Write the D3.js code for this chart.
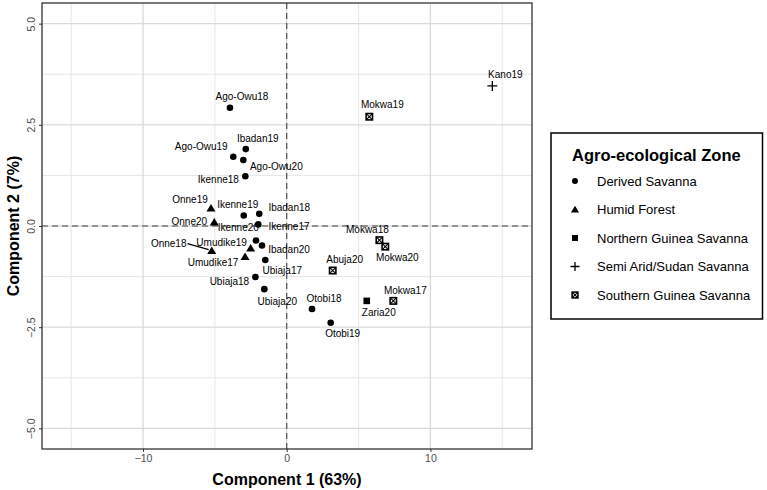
<!DOCTYPE html>
<html><head><meta charset="utf-8">
<script src="https://cdn.jsdelivr.net/npm/d3@7"></script>
<style>body{margin:0;background:#fff}svg{display:block;font-family:"Liberation Sans",Arial,sans-serif}</style>
</head><body><svg id="c" width="767" height="490"></svg>
<script>
// ---- data ----
const names = ["Ago-Owu18","Ibadan19","Ago-Owu19","Ago-Owu20","Ikenne18","Onne19","Ikenne19","Ibadan18","Onne20","Ikenne20","Ikenne17","Onne18","Umudike19","Umudike17","Ibadan20","Ubiaja17","Ubiaja18","Ubiaja20","Otobi18","Otobi19","Abuja20","Mokwa19","Kano19","Mokwa18","Mokwa20","Zaria20","Mokwa17"];
const zones = ["Derived Savanna","Derived Savanna","Derived Savanna","Derived Savanna","Derived Savanna","Humid Forest","Derived Savanna","Derived Savanna","Humid Forest","Derived Savanna","Derived Savanna","Humid Forest","Humid Forest","Humid Forest","Derived Savanna","Derived Savanna","Derived Savanna","Derived Savanna","Derived Savanna","Derived Savanna","Southern Guinea Savanna","Southern Guinea Savanna","Semi Arid/Sudan Savanna","Southern Guinea Savanna","Southern Guinea Savanna","Northern Guinea Savanna","Southern Guinea Savanna"];
const pc1 = [-3.95,-2.85,-3.72,-3.02,-2.88,-5.27,-2.99,-1.91,-5.04,-1.98,-2.14,-5.22,-2.51,-2.90,-1.72,-1.49,-2.18,-1.56,1.76,3.06,3.20,5.75,14.31,6.45,6.86,5.57,7.42];
const pc2 = [2.92,1.90,1.71,1.63,1.23,0.44,0.26,0.30,0.09,0.04,-0.36,-0.61,-0.55,-0.76,-0.48,-0.84,-1.26,-1.56,-2.05,-2.39,-1.10,2.70,3.46,-0.35,-0.51,-1.85,-1.85];
const zoneList = ["Derived Savanna","Humid Forest","Northern Guinea Savanna","Semi Arid/Sudan Savanna","Southern Guinea Savanna"];
const xTicks = [-10,0,10];
const yTicks = [-5,-2.5,0,2.5,5];
const xTitle = "Component 1 (63%)";
const yTitle = "Component 2 (7%)";
const legendTitle = "Agro-ecological Zone";

// ---- layout (label offsets in px, relative to point) ----
const labelOff = {"Ago-Owu18":[12,-11],"Ibadan19":[12,-11],"Ago-Owu19":[-32,-10],"Ago-Owu20":[33,6],"Ikenne18":[-27,3],"Onne19":[-21,-9],"Ikenne19":[-6,-11],"Ibadan18":[30,-6],"Onne20":[-25,-1],"Ikenne20":[-20,3],"Ikenne17":[33,-14],"Onne18":[-43,-7],"Umudike19":[-29,-6],"Umudike17":[-32,6],"Ibadan20":[27,4],"Ubiaja17":[17,11],"Ubiaja18":[-26,5],"Ubiaja20":[13,12],"Otobi18":[12,-10],"Otobi19":[12,11],"Abuja20":[12,-11],"Mokwa19":[13,-12],"Kano19":[13,-11],"Mokwa18":[-12,-11],"Mokwa20":[12,11],"Zaria20":[12,12],"Mokwa17":[12,-10]};

const svg = d3.select("#c");
const L=42, R=532, T=3, B=449;
const x = d3.scaleLinear().domain([-17.03,17.07]).range([L,R]);
const y = d3.scaleLinear().domain([-5.51,5.51]).range([B,T]);

const g = svg.append("g");
const xMinor=[-15,-5,5,15], yMinor=[-3.75,-1.25,1.25,3.75];
g.selectAll(".xm").data(xMinor).join("line").attr("x1",d=>x(d)).attr("x2",d=>x(d)).attr("y1",T).attr("y2",B).attr("stroke","#e6e6e6").attr("stroke-width",1);
g.selectAll(".ym").data(yMinor).join("line").attr("y1",d=>y(d)).attr("y2",d=>y(d)).attr("x1",L).attr("x2",R).attr("stroke","#e6e6e6").attr("stroke-width",1);
g.selectAll(".xM").data(xTicks).join("line").attr("x1",d=>x(d)).attr("x2",d=>x(d)).attr("y1",T).attr("y2",B).attr("stroke","#dadada").attr("stroke-width",1.3);
g.selectAll(".yM").data(yTicks).join("line").attr("y1",d=>y(d)).attr("y2",d=>y(d)).attr("x1",L).attr("x2",R).attr("stroke","#dadada").attr("stroke-width",1.3);
g.append("line").attr("x1",x(0)).attr("x2",x(0)).attr("y1",T).attr("y2",B).attr("stroke","#444").attr("stroke-width",1.1).attr("stroke-dasharray","6,4");
g.append("line").attr("y1",y(0)).attr("y2",y(0)).attr("x1",L).attr("x2",R).attr("stroke","#444").attr("stroke-width",1.1).attr("stroke-dasharray","6,4");

// axes
const xa = svg.append("g").attr("transform",`translate(0,${B})`).attr("color","#4d4d4d").call(d3.axisBottom(x).tickValues(xTicks).tickFormat(d3.format("d")).tickSize(3).tickPadding(3));
const ya = svg.append("g").attr("transform",`translate(${L},0)`).attr("color","#4d4d4d").call(d3.axisLeft(y).tickValues(yTicks).tickFormat(d3.format(".1f")).tickSize(3).tickPadding(3));
[xa,ya].forEach(a=>{a.select(".domain").remove();a.selectAll(".tick line").attr("stroke","#333");a.selectAll("text").attr("fill","#4d4d4d").attr("font-size",10.5).attr("font-family","Liberation Sans, Arial, sans-serif");});
ya.selectAll(".tick text").each(function(){
  d3.select(this).attr("x",0).attr("dy",null).attr("text-anchor","middle").attr("dominant-baseline","central").attr("transform",`translate(-11,0) rotate(-90)`);
});
svg.append("rect").attr("x",L).attr("y",T).attr("width",R-L).attr("height",B-T).attr("fill","none").attr("stroke","#222").attr("stroke-width",1.2);

// titles
svg.append("text").attr("x",(L+R)/2).attr("y",485).attr("text-anchor","middle").attr("font-weight","bold").attr("font-size",16).text(xTitle);
svg.append("text").attr("transform",`translate(19,${(T+B)/2}) rotate(-90)`).attr("text-anchor","middle").attr("font-weight","bold").attr("font-size",16).text(yTitle);

function drawSym(sel, zone, cx, cy, s){
  if(zone==="Derived Savanna") sel.append("circle").attr("cx",cx).attr("cy",cy).attr("r",3.3*s).attr("fill","#000");
  else if(zone==="Humid Forest"){const h=4.3*s;sel.append("path").attr("d",`M${cx},${cy-h}L${cx+h*1.05},${cy+h*0.75}L${cx-h*1.05},${cy+h*0.75}Z`).attr("fill","#000");}
  else if(zone==="Northern Guinea Savanna"){const h=3.3*s;sel.append("rect").attr("x",cx-h).attr("y",cy-h).attr("width",2*h).attr("height",2*h).attr("fill","#000");}
  else if(zone==="Semi Arid/Sudan Savanna"){const h=5*s;sel.append("path").attr("d",`M${cx-h},${cy}H${cx+h}M${cx},${cy-h}V${cy+h}`).attr("stroke","#000").attr("stroke-width",1.3).attr("fill","none");}
  else {const h=3.2*s;sel.append("rect").attr("x",cx-h).attr("y",cy-h).attr("width",2*h).attr("height",2*h).attr("fill","#fff").attr("stroke","#000").attr("stroke-width",1.6);
    sel.append("path").attr("d",`M${cx-h},${cy-h}L${cx+h},${cy+h}M${cx+h},${cy-h}L${cx-h},${cy+h}`).attr("stroke","#000").attr("stroke-width",1.1);}
}
const pts = svg.append("g");
names.forEach((n,i)=>drawSym(pts,zones[i],x(pc1[i]),y(pc2[i]),1));
const lab = svg.append("g").attr("font-size",10).attr("fill","#000");
names.forEach((n,i)=>{
  const o=labelOff[n]||[0,-11]; const px=x(pc1[i]), py=y(pc2[i]);
  const t=lab.append("text").attr("x",px+o[0]).attr("y",py+o[1]).attr("text-anchor","middle").attr("dominant-baseline","central").text(n);
  if(n==="Onne18"){const w=t.node().getComputedTextLength();
    lab.append("line").attr("x1",px+o[0]+w/2+1).attr("y1",py+o[1]).attr("x2",px-3).attr("y2",py-1).attr("stroke","#000").attr("stroke-width",1.3);}
});

// legend
const lg = svg.append("g");
lg.append("rect").attr("x",551).attr("y",133).attr("width",211.5).attr("height",186).attr("fill","#fff").attr("stroke","#000").attr("stroke-width",1.5);
lg.append("text").attr("x",572).attr("y",161).attr("font-weight","bold").attr("font-size",16.5).text(legendTitle);
zoneList.forEach((z,i)=>{
  const cy=181+i*28.5;
  drawSym(lg,z,575,cy,0.9);
  lg.append("text").attr("x",597).attr("y",cy).attr("dominant-baseline","central").attr("font-size",13).text(z);
});
</script></body></html>
